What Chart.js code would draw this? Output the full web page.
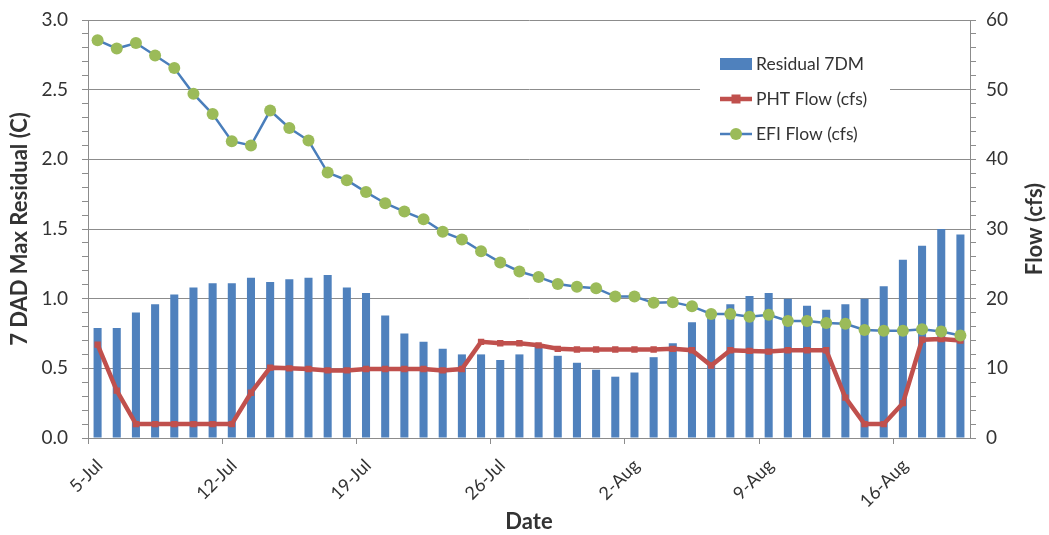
<!DOCTYPE html>
<html>
<head>
<meta charset="utf-8">
<script src="https://cdn.jsdelivr.net/npm/chart.js@4"></script>
<style>
  html, body { margin: 0; padding: 0; background: #fff; }
  #wrap { width: 1049px; height: 535px; }
</style>
</head>
<body>
<div id="wrap"><canvas id="chart" width="1049" height="535"></canvas></div>
<script>
// Data
const dates = [
  "5-Jul", "6-Jul", "7-Jul", "8-Jul", "9-Jul", "10-Jul", "11-Jul",
  "12-Jul", "13-Jul", "14-Jul", "15-Jul", "16-Jul", "17-Jul", "18-Jul",
  "19-Jul", "20-Jul", "21-Jul", "22-Jul", "23-Jul", "24-Jul", "25-Jul",
  "26-Jul", "27-Jul", "28-Jul", "29-Jul", "30-Jul", "31-Jul", "1-Aug",
  "2-Aug", "3-Aug", "4-Aug", "5-Aug", "6-Aug", "7-Aug", "8-Aug",
  "9-Aug", "10-Aug", "11-Aug", "12-Aug", "13-Aug", "14-Aug", "15-Aug",
  "16-Aug", "17-Aug", "18-Aug", "19-Aug"
];
const residual7dm = [
  0.79, 0.79, 0.90, 0.96, 1.03, 1.08, 1.11, 1.11, 1.15, 1.12, 1.14, 1.15,
  1.17, 1.08, 1.04, 0.88, 0.75, 0.69, 0.64, 0.60, 0.60, 0.56, 0.60, 0.66,
  0.59, 0.54, 0.49, 0.44, 0.47, 0.58, 0.68, 0.83, 0.90, 0.96, 1.02, 1.04,
  1.00, 0.95, 0.92, 0.96, 1.00, 1.09, 1.28, 1.38, 1.50, 1.46
];
const phtFlow = [
  13.4, 6.8, 2.0, 2.0, 2.0, 2.0, 2.0, 2.0, 6.5, 10.1, 10.0, 9.9,
  9.7, 9.7, 9.9, 9.9, 9.9, 9.9, 9.7, 9.9, 13.8, 13.6, 13.6, 13.3,
  12.8, 12.7, 12.7, 12.7, 12.7, 12.7, 12.8, 12.6, 10.4, 12.6, 12.5, 12.4,
  12.6, 12.6, 12.6, 5.8, 2.0, 2.0, 5.0, 14.1, 14.2, 14.0
];
const efiFlow = [
  57.1, 55.9, 56.7, 54.9, 53.1, 49.4, 46.5, 42.6, 42.0, 47.0, 44.5, 42.7,
  38.1, 37.0, 35.3, 33.7, 32.5, 31.4, 29.6, 28.5, 26.8, 25.2, 23.9, 23.1,
  22.1, 21.7, 21.5, 20.3, 20.3, 19.4, 19.5, 18.9, 17.8, 17.8, 17.4, 17.7,
  16.8, 16.8, 16.5, 16.4, 15.5, 15.4, 15.4, 15.6, 15.3, 14.7
];

const FONT = "Lato, 'Liberation Sans', sans-serif";
const GRID = "#8c8c8c";
const NONE = "rgba(0,0,0,0)";
const TEXT = "#333";

Chart.defaults.font.family = FONT;
Chart.defaults.color = TEXT;

// keep vertical axes from reserving room for half a tick label
function fixVertical(width) {
  return (s) => {
    s.width = width;
    s.paddingTop = 0;
    s.paddingBottom = 0;
  };
}

// legend drawn inside the plot, like the Excel original
const insideLegend = {
  id: "insideLegend",
  afterDatasetsDraw(chart) {
    const { ctx, chartArea } = chart;
    const x = chartArea.right - 250;
    const y = chartArea.top + 30;
    ctx.save();
    ctx.fillStyle = "#fff";
    ctx.fillRect(x - 20, y, 190, 102);
    ctx.font = "17.5px " + FONT;
    ctx.textBaseline = "middle";
    chart.data.datasets.forEach((ds, i) => {
      const cy = y + 14 + i * 35;
      if (ds.type === "bar") {
        ctx.fillStyle = ds.backgroundColor;
        ctx.fillRect(x, cy - 6, 32, 12);
      } else {
        ctx.strokeStyle = ds.borderColor;
        ctx.lineWidth = ds.borderWidth;
        ctx.beginPath();
        ctx.moveTo(x, cy);
        ctx.lineTo(x + 32, cy);
        ctx.stroke();
        ctx.fillStyle = ds.pointBackgroundColor;
        if (ds.pointStyle === "rect") {
          ctx.fillRect(x + 16 - ds.pointRadius, cy - ds.pointRadius, ds.pointRadius * 2, ds.pointRadius * 2);
        } else {
          ctx.beginPath();
          ctx.arc(x + 16, cy, ds.pointRadius, 0, Math.PI * 2);
          ctx.fill();
        }
      }
      ctx.fillStyle = TEXT;
      ctx.fillText(ds.label, x + 36, cy);
    });
    ctx.restore();
  }
};

// right axis title reads bottom-to-top
const rightTitle = {
  id: "rightTitle",
  afterDraw(chart) {
    const { ctx, chartArea } = chart;
    ctx.save();
    ctx.translate(1035, (chartArea.top + chartArea.bottom) / 2);
    ctx.rotate(-Math.PI / 2);
    ctx.font = "bold 22px " + FONT;
    ctx.fillStyle = TEXT;
    ctx.textAlign = "center";
    ctx.textBaseline = "middle";
    ctx.fillText("Flow (cfs)", 0, 0);
    ctx.restore();
  }
};

new Chart(document.getElementById("chart"), {
  data: {
    labels: dates,
    datasets: [
      {
        type: "bar",
        label: "Residual 7DM",
        data: residual7dm,
        backgroundColor: "#4F81BD",
        barPercentage: 0.42,
        categoryPercentage: 1.0,
        yAxisID: "y",
        order: 3,
      },
      {
        type: "line",
        label: "PHT Flow (cfs)",
        data: phtFlow,
        borderColor: "#C0504D",
        borderWidth: 4.5,
        pointStyle: "rect",
        pointRadius: 4.5,
        pointBackgroundColor: "#C0504D",
        pointBorderWidth: 0,
        tension: 0,
        yAxisID: "y1",
        order: 2,
      },
      {
        type: "line",
        label: "EFI Flow (cfs)",
        data: efiFlow,
        borderColor: "#4A7EBB",
        borderWidth: 2.5,
        pointStyle: "circle",
        pointRadius: 6,
        pointBackgroundColor: "#9BBB59",
        pointBorderWidth: 0,
        tension: 0,
        yAxisID: "y1",
        order: 1,
      },
    ],
  },
  options: {
    responsive: false,
    animation: false,
    layout: { autoPadding: false, padding: { top: 20, left: 0, right: 0, bottom: 0 } },
    plugins: {
      legend: { display: false },
      tooltip: { enabled: false },
    },
    scales: {
      x: {
        type: "category",
        offset: true,
        afterFit: (s) => { s.height = 97; s.paddingLeft = 0; s.paddingRight = 0; },
        grid: {
          offset: true,
          drawOnChartArea: false,
          tickLength: 6,
          tickColor: (c) => (c.index % 7 === 0 ? GRID : NONE),
        },
        border: { color: GRID },
        ticks: {
          autoSkip: false,
          minRotation: 45,
          maxRotation: 45,
          labelOffset: 2,
          padding: 11,
          font: { size: 18 },
          callback: (v, i) => (i % 7 === 0 ? dates[i] : ""),
        },
        title: {
          display: true,
          text: "Date",
          font: { size: 22, weight: "bold" },
          padding: { top: 0, bottom: 0 },
        },
      },
      y: {
        position: "left",
        min: 0,
        max: 3,
        afterFit: fixVertical(88),
        grid: {
          color: (c) => (Math.round(c.tick.value * 10) % 5 === 0 ? GRID : NONE),
          tickColor: GRID,
          tickLength: 6,
        },
        border: { color: GRID },
        ticks: {
          stepSize: 0.1,
          maxTicksLimit: 100,
          autoSkip: false,
          padding: 14,
          font: { size: 19 },
          callback: (v) => (Math.round(v * 10) % 5 === 0 ? v.toFixed(1) : ""),
        },
        title: {
          display: true,
          text: "7 DAD Max Residual (C)",
          font: { size: 22, weight: "bold" },
          padding: { top: 7, bottom: 0 },
        },
      },
      y1: {
        position: "right",
        min: 0,
        max: 60,
        afterFit: fixVertical(79),
        grid: {
          drawOnChartArea: false,
          tickColor: GRID,
          tickLength: 6,
        },
        border: { color: GRID },
        ticks: {
          stepSize: 2,
          maxTicksLimit: 100,
          autoSkip: false,
          padding: 10,
          font: { size: 19 },
          callback: (v) => (v % 10 === 0 ? String(v) : ""),
        },
      },
    },
  },
  plugins: [insideLegend, rightTitle],
});
</script>
</body>
</html>
